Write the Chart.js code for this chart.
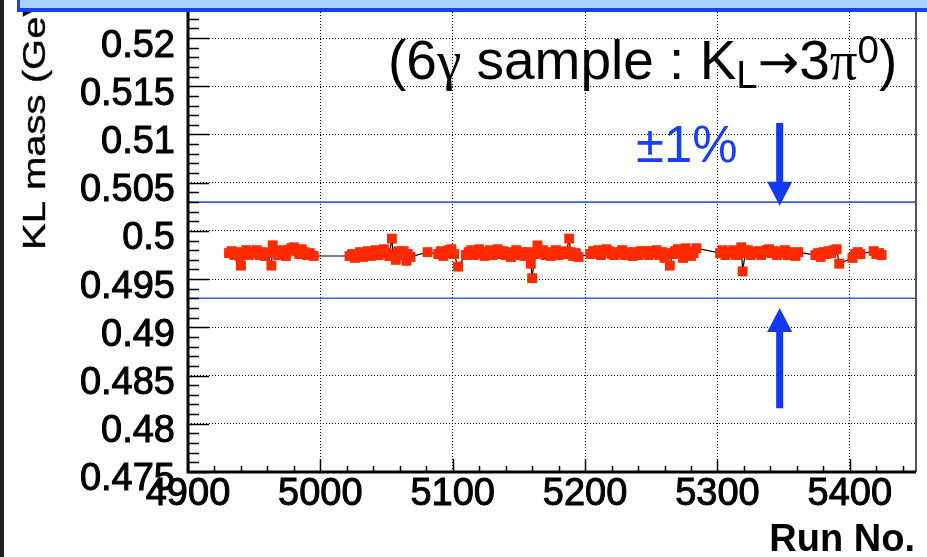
<!DOCTYPE html>
<html>
<head>
<meta charset="utf-8">
<script src="https://cdn.jsdelivr.net/npm/chart.js@4.4.1/dist/chart.umd.min.js"></script>
<style>
  html, body { margin: 0; padding: 0; background: #fff; }
  #wrap { position: relative; width: 927px; height: 557px; overflow: hidden; font-family: "Liberation Sans", Arial, sans-serif; }
  #wrap canvas { position: absolute; left: 0; top: 0; }
  .edge { position: absolute; left: 0; top: 0; width: 4px; height: 557px; background: #222; }
  .band { position: absolute; left: 17px; top: 0; width: 930px; height: 8px; background: #a9d2f9; border-left: 3px solid #1b3ff2; border-bottom: 4px solid #1b3ff2; }
  .title { position: absolute; left: 388px; top: 33px; font-size: 55px; line-height: 55px; white-space: nowrap; color: #000; }
  .title .gr { font-family: "Liberation Serif", "Times New Roman", serif; }
  .title .arr { font-family: "DejaVu Sans", sans-serif; font-size: 0.9em; }
  .title sub, .title sup { font-size: 0.7em; line-height: 0; }
  .title sub { vertical-align: -0.24em; }
  .title sup { vertical-align: 0.42em; }
  .pm { position: absolute; left: 636px; top: 119px; font-size: 51px; line-height: 51px; color: #1b3ff2; }
</style>
</head>
<body>
<div id="wrap">
  <canvas id="chartKL" width="927" height="557"></canvas>
  <div class="edge"></div>
  <div class="band"></div>
  <div class="title">(6<span class="gr">γ</span> sample : K<sub>L</sub><span class="arr">→</span>3<span class="gr">π</span><sup>0</sup>)</div>
  <div class="pm">±1%</div>
</div>
<script>
// run numbers and fitted KL mass (GeV) per run
const runs = [
  4931, 4933, 4935, 4937, 4939, 4940, 4942, 4944, 4946, 4948, 4950, 4952, 4954, 4956, 4958, 4960, 4963, 4964, 4966, 4968, 4970, 4972, 4974, 4976, 4978, 4980, 4982, 4984, 4986, 4988, 4990, 4992, 4995,
  5022, 5024, 5026, 5028, 5030, 5032, 5034, 5036, 5038, 5040, 5042, 5044, 5046, 5048, 5050, 5052, 5054, 5055, 5057, 5059, 5061, 5063, 5065, 5066, 5068,
  5081, 5089, 5091, 5093, 5095, 5097, 5099, 5101, 5104,
  5110, 5112, 5114, 5116, 5118, 5120, 5122, 5124, 5126, 5128, 5130, 5132, 5134, 5136, 5138, 5140, 5142, 5144, 5146, 5148, 5150, 5152, 5154, 5156, 5158,
  5159, 5160, 5162, 5164, 5166, 5168, 5170, 5172, 5174, 5176, 5178, 5180, 5182, 5184, 5186, 5188, 5189, 5191, 5193, 5195,
  5204, 5206, 5208, 5210, 5212, 5214, 5216, 5218, 5220, 5222, 5224, 5226, 5228, 5230, 5232, 5234, 5236, 5238, 5240, 5242,
  5244, 5246, 5248, 5250, 5252, 5254, 5256, 5258, 5260, 5262, 5264, 5266, 5268, 5270, 5272, 5274, 5276, 5278, 5280, 5282, 5284,
  5302, 5304, 5306, 5308, 5310, 5312, 5314, 5316, 5318, 5319,
  5321, 5323, 5325, 5327, 5329, 5331, 5333, 5335, 5337, 5339, 5341, 5343, 5345, 5347, 5349, 5351, 5353, 5355, 5357, 5359, 5361,
  5374, 5376, 5378, 5380, 5382, 5384, 5386, 5388, 5390, 5392,
  5402, 5404, 5406, 5408,
  5418, 5420, 5422, 5424
];
const kLMass = [
  0.4977, 0.4979, 0.4975, 0.4978, 0.4974, 0.4964, 0.4977, 0.4980, 0.4975, 0.4978, 0.4977, 0.4980, 0.4975, 0.4978, 0.4974, 0.4977, 0.4964, 0.4985, 0.4979, 0.4975, 0.4980, 0.4977, 0.4974, 0.4980, 0.4982, 0.4983, 0.4979, 0.4976, 0.4981, 0.4978, 0.4975, 0.4977, 0.4974,
  0.4974, 0.4976, 0.4972, 0.4975, 0.4978, 0.4973, 0.4976, 0.4979, 0.4974, 0.4977, 0.4980, 0.4975, 0.4978, 0.4981, 0.4977, 0.4974, 0.4992, 0.4976, 0.4970, 0.4979, 0.4975, 0.4979, 0.4969, 0.4976, 0.4973,
  0.4978, 0.4976, 0.4979, 0.4974, 0.4977, 0.4980, 0.4981, 0.4976, 0.4963,
  0.4975, 0.4978, 0.4980, 0.4975, 0.4978, 0.4981, 0.4977, 0.4974, 0.4978, 0.4980, 0.4975, 0.4978, 0.4981, 0.4976, 0.4979, 0.4975, 0.4978, 0.4973, 0.4977, 0.4980, 0.4975, 0.4978, 0.4974, 0.4977, 0.4978,
  0.4966, 0.4951, 0.4976, 0.4985, 0.4977, 0.4980, 0.4975, 0.4978, 0.4974, 0.4977, 0.4980, 0.4975, 0.4978, 0.4976, 0.4979, 0.4992, 0.4978, 0.4974, 0.4977, 0.4973,
  0.4976, 0.4979, 0.4977, 0.4980, 0.4975, 0.4978, 0.4981, 0.4979, 0.4976, 0.4975, 0.4978, 0.4977, 0.4980, 0.4975, 0.4978, 0.4977, 0.4974, 0.4978, 0.4975, 0.4979,
  0.4977, 0.4979, 0.4975, 0.4979, 0.4977, 0.4980, 0.4975, 0.4978, 0.4972, 0.4977, 0.4964, 0.4976, 0.4979, 0.4981, 0.4977, 0.4972, 0.4982, 0.4978, 0.4974, 0.4977, 0.4982,
  0.4977, 0.4980, 0.4975, 0.4978, 0.4977, 0.4980, 0.4975, 0.4978, 0.4983, 0.4958,
  0.4977, 0.4980, 0.4975, 0.4978, 0.4977, 0.4979, 0.4975, 0.4978, 0.4980, 0.4981, 0.4977, 0.4979, 0.4975, 0.4978, 0.4977, 0.4980, 0.4975, 0.4978, 0.4977, 0.4974, 0.4978,
  0.4975, 0.4977, 0.4973, 0.4978, 0.4976, 0.4979, 0.4977, 0.4980, 0.4981, 0.4966,
  0.4972, 0.4976, 0.4978, 0.4976,
  0.4979, 0.4976, 0.4977, 0.4975
];

// axis ranges and labelled ticks
const xRange = [4900, 5450];
const yRange = [0.475, 0.5227];
const xTickLabels = ['4900', '5000', '5100', '5200', '5300', '5400'];
const yTickLabels = ['0.475', '0.48', '0.485', '0.49', '0.495', '0.5', '0.505', '0.51', '0.515', '0.52'];

// reference mass and the +-1% band, arrows pointing at it
const refMass = 0.498;
const bandFrac = 0.01;
const arrowRun = 5347;
const arrowDown = [0.5112, 0.5026];
const arrowUp = [0.4816, 0.4920];

const upper = refMass * (1 + bandFrac);
const lower = refMass * (1 - bandFrac);
const font = '"Liberation Sans", Arial, sans-serif';

function arrow(ctx, px, y0, y1) {
    const dir = y1 > y0 ? 1 : -1;
    const head = 24, half = 12.5, shaft = 3.5;
    ctx.beginPath();
    ctx.moveTo(px - shaft, y0);
    ctx.lineTo(px + shaft, y0);
    ctx.lineTo(px + shaft, y1 - dir * head);
    ctx.lineTo(px + half, y1 - dir * head);
    ctx.lineTo(px, y1);
    ctx.lineTo(px - half, y1 - dir * head);
    ctx.lineTo(px - shaft, y1 - dir * head);
    ctx.closePath();
    ctx.fill();
}

const rootStyle = {
    id: 'rootStyle',
    afterDatasetsDraw(chart) {
        const { ctx, chartArea: a, scales: { x, y } } = chart;
        ctx.save();
        ctx.fillStyle = '#1238f5';
        const ax = x.getPixelForValue(arrowRun);
        arrow(ctx, ax, y.getPixelForValue(arrowDown[0]), y.getPixelForValue(arrowDown[1]));
        arrow(ctx, ax, y.getPixelForValue(arrowUp[0]), y.getPixelForValue(arrowUp[1]));

        // ticks point into the frame
        ctx.strokeStyle = '#000';
        ctx.lineWidth = 1.5;
        ctx.beginPath();
        y.ticks.forEach(t => {
            const py = Math.round(y.getPixelForValue(t.value)) + 0.5;
            ctx.moveTo(a.left, py);
            ctx.lineTo(a.left + (t.major ? 21 : 11), py);
        });
        x.ticks.forEach(t => {
            const px = Math.round(x.getPixelForValue(t.value)) + 0.5;
            ctx.moveTo(px, a.bottom);
            ctx.lineTo(px, a.bottom - (t.major ? 13 : 6));
        });
        ctx.stroke();

        ctx.strokeStyle = '#555';
        ctx.lineWidth = 2;
        ctx.beginPath();
        ctx.moveTo(a.right, a.top);
        ctx.lineTo(a.right, a.bottom);
        ctx.stroke();
        ctx.strokeStyle = '#000';
        ctx.lineWidth = 3;
        ctx.beginPath();
        ctx.moveTo(a.left, a.top);
        ctx.lineTo(a.left, a.bottom);
        ctx.lineTo(a.right, a.bottom);
        ctx.stroke();
        ctx.restore();
    },
    afterDraw(chart) {
        const { ctx } = chart;
        ctx.save();
        ctx.fillStyle = '#000';
        ctx.strokeStyle = '#000';
        ctx.lineWidth = 0.4;
        ctx.translate(45, 250);
        ctx.rotate(-Math.PI / 2);
        ctx.scale(1.25, 1);
        ctx.font = '32px ' + font;
        ctx.textAlign = 'left';
        ctx.textBaseline = 'alphabetic';
        ctx.fillText('KL mass (GeV)', 0, 0);
        ctx.strokeText('KL mass (GeV)', 0, 0);
        ctx.restore();

        ctx.save();
        ctx.fillStyle = '#000';
        ctx.font = 'bold 38px ' + font;
        ctx.textAlign = 'right';
        ctx.textBaseline = 'alphabetic';
        ctx.fillText('Run No.', 915, 551);
        ctx.restore();
    }
};

document.addEventListener('DOMContentLoaded', function () {
    const canvas = document.getElementById('chartKL');
    const tickFont = { family: font, size: 38, weight: 'normal' };
    const gridColor = c => (c.tick && c.tick.major ? '#000' : 'rgba(0,0,0,0)');

    new Chart(canvas, {
        type: 'line',
        data: {
            datasets: [
                {
                    data: runs.map((r, i) => ({ x: r, y: kLMass[i] })),
                    borderColor: '#000',
                    borderWidth: 1.2,
                    pointStyle: 'rect',
                    pointRadius: 7,
                    pointBorderWidth: 0,
                    pointBackgroundColor: '#ff2a00',
                    tension: 0
                },
                {
                    data: [{ x: xRange[0], y: upper }, { x: xRange[1], y: upper }],
                    borderColor: '#3d5ef5',
                    borderWidth: 1.6,
                    pointRadius: 0
                },
                {
                    data: [{ x: xRange[0], y: lower }, { x: xRange[1], y: lower }],
                    borderColor: '#3d5ef5',
                    borderWidth: 1.6,
                    pointRadius: 0
                }
            ]
        },
        options: {
            responsive: false,
            animation: false,
            layout: { padding: { top: 12, right: 11, bottom: 0, left: 0 } },
            plugins: { legend: { display: false }, tooltip: { enabled: false } },
            scales: {
                x: {
                    type: 'linear',
                    min: xRange[0],
                    max: xRange[1],
                    afterBuildTicks: s => {
                        s.ticks = [];
                        for (let v = xRange[0]; v < xRange[1]; v += 20) {
                            s.ticks.push({ value: v, major: xTickLabels.includes(String(v)) });
                        }
                    },
                    afterFit: s => {
                        s.height = 85;
                        s.paddingLeft = 0;
                        s.paddingRight = 0;
                    },
                    grid: { color: gridColor, lineWidth: 1, drawTicks: false },
                    border: { display: false, dash: [1, 2] },
                    ticks: {
                        autoSkip: false,
                        maxRotation: 0,
                        padding: 0,
                        color: '#000',
                        font: tickFont,
                        textStrokeColor: '#000',
                        textStrokeWidth: 1,
                        callback: (v, i, t) => (t[i].major ? String(v) : '')
                    }
                },
                y: {
                    type: 'linear',
                    min: yRange[0],
                    max: yRange[1],
                    afterBuildTicks: s => {
                        s.ticks = [];
                        for (let k = 475; k <= 522; k++) {
                            const v = k / 1000;
                            s.ticks.push({ value: v, major: yTickLabels.includes(String(v)) });
                        }
                    },
                    afterFit: s => {
                        s.width = 188;
                        s.paddingTop = 0;
                        s.paddingBottom = 0;
                    },
                    grid: { color: gridColor, lineWidth: 1, drawTicks: false },
                    border: { display: false, dash: [1, 2] },
                    ticks: {
                        autoSkip: false,
                        padding: 13,
                        labelOffset: 8,
                        color: '#000',
                        font: tickFont,
                        textStrokeColor: '#000',
                        textStrokeWidth: 1,
                        callback: (v, i, t) => (t[i].major ? String(v) : '')
                    }
                }
            }
        },
        plugins: [rootStyle]
    });
});
</script>
</body>
</html>
